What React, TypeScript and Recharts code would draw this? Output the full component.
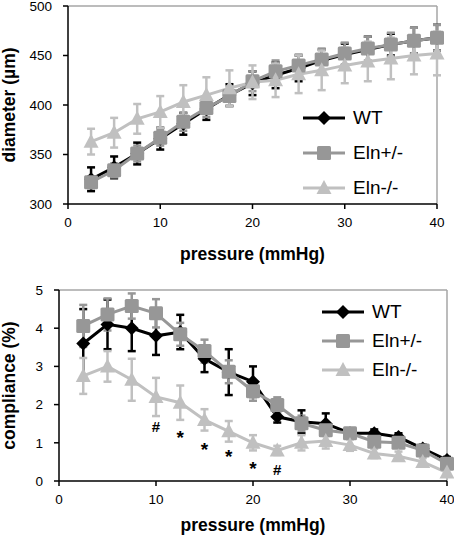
import {
  LineChart,
  ComposedChart,
  Line,
  XAxis,
  YAxis,
  ErrorBar,
  Legend,
  ReferenceLine,
  ReferenceDot,
} from 'recharts';

// shared x values (mmHg)
const pressure = [2.5, 5, 7.5, 10, 12.5, 15, 17.5, 20, 22.5, 25, 27.5, 30, 32.5, 35, 37.5, 40];

// diameter (µm)
const diamWT = [325, 337, 351, 366, 381, 396, 410, 422, 430, 437, 445, 451, 456, 461, 465, 468];
const diamWTErr = [12, 11, 11, 11, 11, 11, 11, 12, 13, 13, 11, 11, 13, 11, 13, 13];
const diamHet = [322, 334, 351, 367, 383, 397, 409, 424, 434, 440, 446, 452, 457, 461, 465, 468];
const diamHetErr = [6, 7, 8, 8, 9, 9, 10, 10, 11, 11, 11, 11, 12, 12, 13, 13];
const diamKO = [363, 372, 386, 393, 403, 410, 417, 423, 425, 431, 435, 440, 444, 447, 450, 452];
const diamKOErr = [13, 15, 15, 16, 17, 18, 18, 17, 17, 19, 20, 18, 20, 21, 19, 22];

// compliance (%)
const compWT = [3.6, 4.1, 4.0, 3.8, 3.9, 3.2, 2.85, 2.6, 1.68, 1.55, 1.5, 1.25, 1.25, 1.15, 0.85, 0.55];
const compWTErr = [0.9, 0.65, 0.6, 0.5, 0.45, 0.35, 0.6, 0.4, 0.15, 0.3, 0.27, 0.13, 0.1, 0.1, 0.1, 0.08];
const compHet = [4.06, 4.36, 4.58, 4.39, 3.84, 3.4, 2.86, 2.35, 1.99, 1.51, 1.33, 1.25, 1.03, 1.0, 0.8, 0.45];
const compHetErr = [0.55, 0.42, 0.33, 0.37, 0.3, 0.3, 0.3, 0.25, 0.2, 0.2, 0.15, 0.12, 0.1, 0.1, 0.1, 0.1];
const compKO = [2.75, 3.0, 2.65, 2.2, 2.05, 1.6, 1.3, 1.0, 0.8, 1.0, 1.05, 0.94, 0.72, 0.65, 0.5, 0.22];
const compKOErr = [0.47, 0.4, 0.55, 0.5, 0.45, 0.28, 0.27, 0.2, 0.12, 0.2, 0.2, 0.15, 0.12, 0.12, 0.1, 0.1];

// significance marks under the Eln-/- curve
const sigPressure = [10, 12.5, 15, 17.5, 20, 22.5];
const sigLevel = [1.42, 1.24, 0.92, 0.75, 0.44, 0.29];
const sigText = ['#', '*', '*', '*', '*', '#'];

const seriesNames = ['WT', 'Eln+/-', 'Eln-/-'];
const xTicks = [0, 10, 20, 30, 40];
const diamTicks = [300, 350, 400, 450, 500];
const compTicks = [0, 1, 2, 3, 4, 5];

const FONT = '"Liberation Sans", Arial, sans-serif';
const COLORS = ['#000000', '#979797', '#c0c0c0'];
const SHAPES = ['diamond', 'square', 'triangle'];

const diamData = pressure.map((p, i) => ({
  p,
  wt: diamWT[i],
  wtErr: diamWTErr[i],
  het: diamHet[i],
  hetErr: diamHetErr[i],
  ko: diamKO[i],
  koErr: diamKOErr[i],
}));

const compData = pressure.map((p, i) => ({
  p,
  wt: compWT[i],
  wtErr: compWTErr[i],
  het: compHet[i],
  hetErr: compHetErr[i],
  ko: compKO[i],
  koErr: compKOErr[i],
}));

function Marker({ cx, cy, shape, color }: { cx: number; cy: number; shape: string; color: string }) {
  if (shape === 'diamond') {
    const s = 7;
    return <polygon points={`${cx},${cy - s} ${cx + s},${cy} ${cx},${cy + s} ${cx - s},${cy}`} fill={color} />;
  }
  if (shape === 'square') {
    const s = 7;
    return <rect x={cx - s} y={cy - s} width={2 * s} height={2 * s} rx={1.5} fill={color} />;
  }
  const w = 7.5;
  return <polygon points={`${cx},${cy - 8} ${cx + w},${cy + 6} ${cx - w},${cy + 6}`} fill={color} />;
}

const dotFor = (i: number) => (props: any) => {
  if (props.cx == null || props.cy == null) return <g key={props.key} />;
  return (
    <g key={props.key}>
      <Marker cx={props.cx} cy={props.cy} shape={SHAPES[i]} color={COLORS[i]} />
    </g>
  );
};

function LegendBox({ rowHeight, fontSize }: { rowHeight: number; fontSize: number }) {
  return (
    <div style={{ fontFamily: FONT }}>
      {seriesNames.map((name, i) => (
        <div key={name} style={{ display: 'flex', alignItems: 'center', height: rowHeight }}>
          <svg width={42} height={20} style={{ display: 'block' }}>
            <line x1={0} y1={10} x2={42} y2={10} stroke={COLORS[i]} strokeWidth={3} />
            <Marker cx={21} cy={10} shape={SHAPES[i]} color={COLORS[i]} />
          </svg>
          <span style={{ marginLeft: 8, fontSize, color: '#000', lineHeight: 1 }}>{name}</span>
        </div>
      ))}
    </div>
  );
}

// '#' and '*' sit at different heights in the em box, so shift each onto its point
function SigMark({ cx, cy, text }: { cx: number; cy: number; text: string }) {
  const star = text === '*';
  const fs = star ? 19 : 15;
  const dy = star ? 0.56 * fs : 0.36 * fs;
  return (
    <text x={cx} y={cy + dy} textAnchor="middle" fontFamily={FONT} fontSize={fs} fontWeight={700} fill="#000">
      {text}
    </text>
  );
}

const tickStyle = { fill: '#000', fontSize: 13.5, fontFamily: FONT };
const titleStyle = { fill: '#000', fontSize: 17.5, fontWeight: 700, fontFamily: FONT, textAnchor: 'middle' as const };

export default function App() {
  const lines = (errW: number) =>
    ['wt', 'het', 'ko'].map((k, i) => (
      <Line
        key={k}
        type="linear"
        dataKey={k}
        stroke={COLORS[i]}
        strokeWidth={3}
        dot={dotFor(i)}
        activeDot={false}
        isAnimationActive={false}
        legendType="none"
      >
        <ErrorBar
          dataKey={`${k}Err`}
          direction="y"
          width={errW}
          stroke={COLORS[i]}
          strokeWidth={2.5}
          isAnimationActive={false}
        />
      </Line>
    ));

  return (
    <div style={{ position: 'absolute', left: 0, top: 0, width: 454, height: 536, background: '#fff' }}>
      <LineChart width={454} height={270} data={diamData} margin={{ top: 6, right: 17, bottom: 0, left: 0 }}>
        <XAxis
          type="number"
          dataKey="p"
          domain={[0, 40]}
          ticks={xTicks}
          interval={0}
          height={66}
          tick={tickStyle}
          tickSize={5}
          tickMargin={8}
          stroke="#000"
          strokeWidth={1.5}
          label={{ value: 'pressure (mmHg)', position: 'insideBottom', offset: 10, style: titleStyle }}
        />
        <YAxis
          type="number"
          domain={[300, 500]}
          ticks={diamTicks}
          interval={0}
          width={68}
          tick={tickStyle}
          tickSize={5}
          tickMargin={11}
          stroke="#000"
          strokeWidth={1.5}
          label={{ value: 'diameter (µm)', angle: -90, position: 'insideLeft', offset: 9, style: titleStyle }}
        />
        <ReferenceLine y={500} stroke="#a6a6a6" strokeWidth={1.5} />
        <ReferenceLine x={40} stroke="#a6a6a6" strokeWidth={1.5} />
        {lines(4)}
        <Legend
          layout="horizontal"
          verticalAlign="middle"
          align="center"
          content={() => <LegendBox rowHeight={35} fontSize={19} />}
          wrapperStyle={{ left: 303, top: 100, width: 120 }}
        />
      </LineChart>

      <ComposedChart width={454} height={266} data={compData} margin={{ top: 20, right: 7, bottom: 0, left: 0 }}>
        <XAxis
          type="number"
          dataKey="p"
          domain={[0, 40]}
          ticks={xTicks}
          interval={0}
          height={55}
          tick={tickStyle}
          tickSize={5}
          tickMargin={8}
          stroke="#000"
          strokeWidth={1.5}
          label={{ value: 'pressure (mmHg)', position: 'insideBottom', offset: 5, style: titleStyle }}
        />
        <YAxis
          type="number"
          domain={[0, 5]}
          ticks={compTicks}
          interval={0}
          width={59}
          tick={tickStyle}
          tickSize={5}
          tickMargin={11}
          stroke="#000"
          strokeWidth={1.5}
          label={{ value: 'compliance (%)', angle: -90, position: 'insideLeft', offset: 9, style: titleStyle }}
        />
        <ReferenceLine y={5} stroke="#a6a6a6" strokeWidth={1.5} />
        <ReferenceLine x={40} stroke="#a6a6a6" strokeWidth={1.5} />
        {lines(4)}
        {sigPressure.map((p, i) => (
          <ReferenceDot
            key={`sig${i}`}
            x={p}
            y={sigLevel[i]}
            r={0}
            shape={(props: any) => <SigMark cx={props.cx} cy={props.cy} text={sigText[i]} />}
          />
        ))}
        <Legend
          layout="horizontal"
          verticalAlign="middle"
          align="center"
          content={() => <LegendBox rowHeight={29} fontSize={19} />}
          wrapperStyle={{ left: 322, top: 27, width: 120 }}
        />
      </ComposedChart>
    </div>
  );
}
